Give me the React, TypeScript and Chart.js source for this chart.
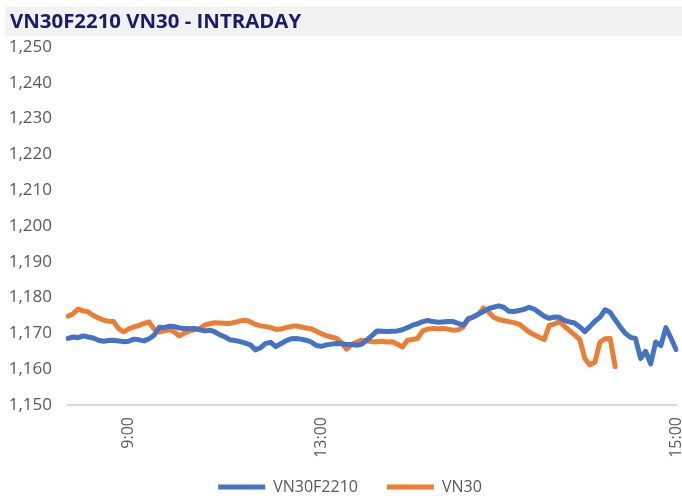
import React, { useEffect, useRef } from "react";
import { Chart, registerables } from "chart.js";

Chart.register(...registerables);

const TITLE = "VN30F2210 VN30 - INTRADAY";
const SERIES_NAMES = ["VN30F2210", "VN30"];
const Y_MIN = 1150;
const Y_MAX = 1250;
const Y_STEP = 10;
const TICK_TEXT = ["9:00", "13:00", "15:00"];
const TICK_AT = [12, 50, 120];
const POINT_COUNT = 121;

const vn30f2210: number[] = [
  1168.6, 1169, 1168.8, 1169.3, 1169, 1168.7, 1168.1, 1167.8, 1168, 1168.1,
  1167.9, 1167.7, 1167.8, 1168.4, 1168.2, 1167.9, 1168.5, 1169.5, 1171.7, 1171.6,
  1172, 1171.9, 1171.5, 1171.4, 1171.3, 1171.4, 1171, 1170.7, 1170.9, 1170.4,
  1169.6, 1169, 1168.2, 1168, 1167.7, 1167.3, 1166.8, 1165.4, 1166, 1167.2,
  1167.5, 1166.3, 1167.1, 1167.9, 1168.5, 1168.6, 1168.4, 1168.1, 1167.6, 1166.6,
  1166.4, 1166.8, 1167, 1167.2, 1167.1, 1166.9, 1166.9, 1166.7, 1167, 1168.2,
  1169.4, 1170.7, 1170.6, 1170.5, 1170.6, 1170.7, 1171, 1171.6, 1172.3, 1172.7,
  1173.3, 1173.6, 1173.3, 1173.1, 1173.2, 1173.3, 1173.3, 1172.8, 1172.3, 1174,
  1174.6, 1175.4, 1176.1, 1176.9, 1177.3, 1177.7, 1177.3, 1176.2, 1176.1, 1176.4,
  1176.7, 1177.3, 1176.8, 1175.8, 1174.8, 1174.2, 1174.6, 1174.5, 1173.6, 1173.2,
  1172.9, 1171.8, 1170.5, 1171.9, 1173.4, 1174.5, 1176.6, 1175.9, 1173.8, 1171.8,
  1170, 1168.9, 1168.6, 1163, 1165, 1161.5, 1167.6, 1166.6, 1171.6, 1168.7,
  1165.5,
];

const vn30: (number | null)[] = [
  1174.8, 1175.5, 1176.8, 1176.3, 1176, 1175, 1174.3, 1173.7, 1173.4, 1173.3,
  1171.3, 1170.4, 1171.3, 1171.8, 1172.2, 1172.8, 1173.2, 1171.2, 1170.4, 1170.7,
  1171, 1170.4, 1169.3, 1170.1, 1170.7, 1171, 1171.4, 1172.3, 1172.7, 1173,
  1172.9, 1172.8, 1172.8, 1173.1, 1173.5, 1173.7, 1173.2, 1172.5, 1172.1, 1171.9,
  1171.6, 1171.1, 1171.2, 1171.6, 1171.9, 1172.1, 1171.8, 1171.5, 1171.3, 1170.6,
  1169.9, 1169.4, 1169, 1168.6, 1167.4, 1165.6, 1166.9, 1167.6, 1168.1, 1167.9,
  1167.7, 1167.7, 1167.8, 1167.6, 1167.7, 1167, 1166.2, 1168.1, 1168.3, 1168.6,
  1170.7, 1171.2, 1171.4, 1171.3, 1171.4, 1171.2, 1170.9, 1171, 1171.8, 1174.2,
  1174.6, 1175.3, 1177.1, 1176, 1174.5, 1173.9, 1173.6, 1173.3, 1173, 1172.6,
  1171.5, 1170.4, 1169.6, 1168.9, 1168.3, 1172.3, 1172.6, 1173.3, 1172, 1170.8,
  1169.6, 1168.3, 1163, 1161.2, 1162, 1167.6, 1168.5, 1168.6, 1160.7, null,
  null, null, null, null, null, null, null, null, null, null,
  null,
];

const COLORS = ["#4472C4", "#ED7D31"];
const TEXT_GREY = "#595959";
const FONT = "'Open Sans', 'Noto Sans', sans-serif";

const titlePlugin = {
  id: "titleBand",
  beforeDraw(chart: any) {
    const ctx = chart.ctx;
    ctx.save();
    ctx.fillStyle = "#F2F2F2";
    ctx.fillRect(5, 7, chart.width - 5, 29);
    ctx.fillStyle = "#1A1A6E";
    ctx.font = `bold 20.4px ${FONT}`;
    ctx.textBaseline = "middle";
    ctx.textAlign = "left";
    ctx.fillText(TITLE, 10, 22);
    ctx.restore();
  },
};

const layoutTweak = {
  id: "layoutTweak",
  afterLayout(chart: any) {
    const lg = chart.legend;
    if (lg) lg.left += 24;
    const x = chart.scales.x;
    if (x) x.bottom = x.top + 62;
  },
};

export default function App() {
  const ref = useRef<HTMLCanvasElement | null>(null);

  useEffect(() => {
    if (!ref.current) return;
    const labels: string[] = [];
    for (let i = 0; i < POINT_COUNT; i++) {
      const k = TICK_AT.indexOf(i);
      labels.push(k >= 0 ? TICK_TEXT[k] : "");
    }
    Chart.defaults.font.family = FONT;
    const chart = new Chart(ref.current, {
      type: "line",
      data: {
        labels,
        datasets: [
          {
            label: SERIES_NAMES[0],
            data: vn30f2210,
            borderColor: COLORS[0],
            backgroundColor: COLORS[0],
            borderWidth: 5,
            pointRadius: 0,
            tension: 0,
            borderCapStyle: "round",
            borderJoinStyle: "round",
          },
          {
            label: SERIES_NAMES[1],
            data: vn30,
            borderColor: COLORS[1],
            backgroundColor: COLORS[1],
            borderWidth: 5,
            pointRadius: 0,
            tension: 0,
            borderCapStyle: "round",
            borderJoinStyle: "round",
            spanGaps: false,
          },
        ],
      },
      options: {
        responsive: false,
        animation: false,
        events: [],
        layout: { padding: { top: 47, left: 0, right: 6, bottom: -6 } },
        plugins: {
          title: { display: false },
          tooltip: { enabled: false },
          legend: {
            display: true,
            position: "bottom",
            labels: {
              usePointStyle: true,
              pointStyle: "line",
              pointStyleWidth: 47,
              boxWidth: 47,
              padding: 29,
              color: TEXT_GREY,
              font: { size: 16, family: FONT },
            },
          },
        },
        scales: {
          x: {
            type: "category",
            offset: false,
            grid: { display: false, drawTicks: false },
            border: { display: true, color: "#D9D9D9", width: 2 },
            ticks: {
              autoSkip: false,
              maxRotation: 90,
              minRotation: 90,
              padding: 12,
              color: TEXT_GREY,
              font: { size: 16, family: FONT },
            },
            afterFit: (s: any) => {
              s.paddingLeft = 0;
              s.paddingRight = 0;
              s.height = 45;
            },
          },
          y: {
            min: Y_MIN,
            max: Y_MAX,
            grid: { display: false, drawTicks: false },
            border: { display: false },
            ticks: {
              stepSize: Y_STEP,
              padding: 16,
              color: TEXT_GREY,
              font: { size: 17, family: FONT },
              callback: (v: any) => Number(v).toLocaleString("en-US"),
            },
            afterFit: (s: any) => {
              s.width = 68;
            },
          },
        },
      },
      plugins: [titlePlugin, layoutTweak],
    });
    return () => chart.destroy();
  }, []);

  return (
    <div style={{ position: "absolute", left: 0, top: 0, width: 682, height: 499, background: "#fff" }}>
      <canvas ref={ref} width={682} height={499} />
    </div>
  );
}
